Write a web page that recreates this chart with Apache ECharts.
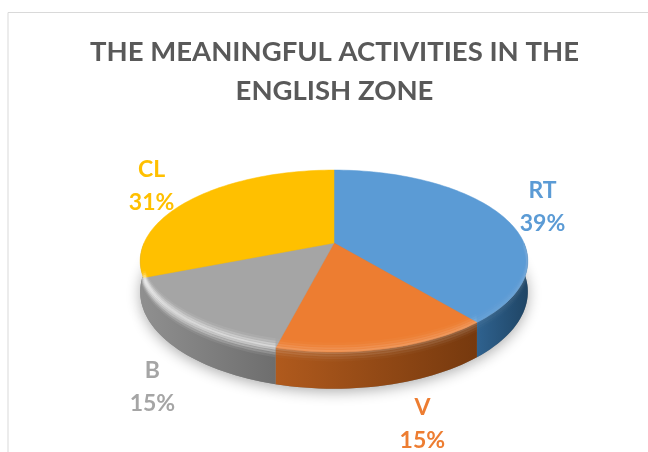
<!DOCTYPE html>
<html>
<head>
<meta charset="utf-8">
<script src="https://cdn.jsdelivr.net/npm/echarts@6/dist/echarts.min.js"></script>
<style>
  html, body { margin: 0; padding: 0; background: #fff; }
  #chart { width: 648px; height: 452px; }
</style>
</head>
<body>
<div id="chart"></div>
<script>
const titleText = 'THE MEANINGFUL ACTIVITIES IN THE\nENGLISH ZONE';
const categories = ['RT', 'V', 'B', 'CL'];
const percents = [39, 15, 15, 31];

const topColors = ['#5b9bd5', '#ed7d31', '#a5a5a5', '#ffc000'];
const wallColors = [['#2f628f', '#1f4565'], ['#b05a1d', '#76390e'], ['#8f8f8f', '#6e6e6e'], ['#8f8f8f', '#8f8f8f']];
const bevelAlpha = [0.04, 0.12, 0.38, 0];
// soft rim highlight: vertical offset from the rim, and its strength
const bevelBands = [[-6, 0.2], [-4, 0.45], [-2, 0.8], [0, 1], [2, 0.8], [4, 0.45], [6, 0.2]];
// label offset from the rim point at the middle of each slice
const labelOffsets = [[41, -8], [37, 75], [-34, 67], [-41, -13]];

// tilted disc: apex, radius, vertical squash, perspective, thickness
const CX = 334, CY = 243, RX = 190, RY = 87.4, PERSP = 0.198, DEPTH = 29.5;

const project = (pct, r = 1, drop = 0) => {
  const a = pct / 100 * Math.PI * 2;
  const u = Math.sin(a) * r, v = -Math.cos(a) * r;
  const w = 1 - PERSP * v;
  return [CX + RX * u / w, CY + (RY * v + drop) / w];
};

const arc = (from, to, r, drop) => {
  const pts = [];
  const steps = Math.max(2, Math.ceil((to - from) * 2));
  for (let i = 0; i <= steps; i++) {
    pts.push(project(from + (to - from) * i / steps, r, drop));
  }
  return pts;
};

let sum = 0;
const rows = percents.map(p => {
  const row = [sum, sum + p];
  sum += p;
  return row;
});

// only the front part of the rim (25% .. 75%) has a visible wall
const front = (api) => [Math.max(api.value(0), 25), Math.min(api.value(1), 75)];

const renderShadow = (params, api) => ({
  type: 'polygon',
  shape: {points: [project(api.value(0), 0, DEPTH), ...arc(api.value(0), api.value(1), 1, DEPTH)]},
  style: {fill: '#8a8a8a', shadowBlur: 14, shadowColor: 'rgba(0,0,0,0.32)', shadowOffsetY: 3}
});

const renderWall = (params, api) => {
  const [from, to] = front(api);
  const c = wallColors[params.dataIndex];
  return {
    type: 'polygon',
    shape: {points: [...arc(from, to, 1, 0), ...arc(from, to, 1, DEPTH).reverse()]},
    style: {
      fill: new echarts.graphic.LinearGradient(0, 0, 1, 0, [
        {offset: 0, color: c[0]},
        {offset: 1, color: c[1]}
      ])
    }
  };
};

const renderTop = (params, api) => ({
  type: 'polygon',
  shape: {points: [[CX, CY], ...arc(api.value(0), api.value(1), 1, 0)]},
  style: {fill: topColors[params.dataIndex], stroke: topColors[params.dataIndex], lineWidth: 0.5}
});

const renderBevel = (params, api) => {
  const [from, to] = front(api);
  const alpha = bevelAlpha[params.dataIndex];
  return {
    type: 'group',
    children: bevelBands.map(([drop, weight]) => ({
      type: 'polyline',
      shape: {points: arc(from, to, 1, drop)},
      style: {
        fill: null,
        stroke: 'rgba(255,255,255,' + (alpha * weight).toFixed(3) + ')',
        lineWidth: 4
      }
    }))
  };
};

const renderLabel = (params, api) => {
  const i = params.dataIndex;
  const mid = project((api.value(0) + api.value(1)) / 2);
  return {
    type: 'text',
    style: {
      x: mid[0] + labelOffsets[i][0],
      y: mid[1] + labelOffsets[i][1],
      text: categories[i] + '\n' + percents[i] + '%',
      fill: topColors[i],
      font: 'bold 23px Lato',
      lineHeight: 33,
      align: 'center',
      verticalAlign: 'middle'
    }
  };
};

const layer = (renderItem) => ({
  type: 'custom',
  coordinateSystem: 'none',
  silent: true,
  animation: false,
  data: rows,
  renderItem
});

const chart = echarts.init(document.getElementById('chart'));
chart.setOption({
  backgroundColor: '#fff',
  animation: false,
  title: {
    text: titleText,
    left: 329.5,
    top: 28,
    textAlign: 'center',
    textStyle: {
      color: '#595959',
      fontFamily: 'Lato',
      fontWeight: 'bold',
      fontSize: 27.5,
      lineHeight: 39
    }
  },
  graphic: [
    {type: 'line', silent: true, shape: {x1: 8, y1: 12.5, x2: 648, y2: 12.5}, style: {stroke: '#d9d9d9', lineWidth: 1}},
    {type: 'line', silent: true, shape: {x1: 8, y1: 12.5, x2: 8, y2: 452}, style: {stroke: '#d9d9d9', lineWidth: 1}}
  ],
  series: [
    layer(renderShadow),
    layer(renderWall),
    layer(renderTop),
    layer(renderBevel),
    layer(renderLabel)
  ]
});
</script>
</body>
</html>
